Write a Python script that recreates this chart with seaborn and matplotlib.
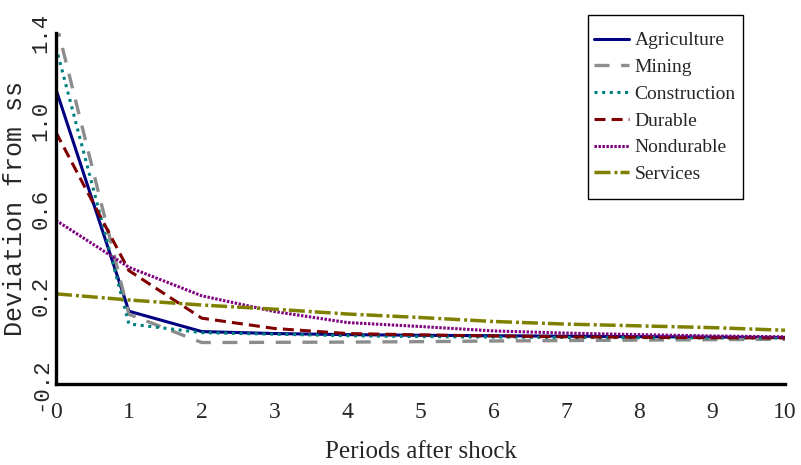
import numpy as np
import pandas as pd
import matplotlib
matplotlib.use("Agg")
import matplotlib.pyplot as plt
from matplotlib.patches import Rectangle
import seaborn as sns

periods = list(range(11))
agriculture = [1.143, 0.132, 0.039, 0.030, 0.025, 0.022, 0.020, 0.018, 0.016, 0.014, 0.012]
mining = [1.45, 0.118, -0.011, -0.010, -0.009, -0.007, -0.004, -0.002, 0.000, 0.002, 0.004]
construction = [1.335, 0.074, 0.034, 0.027, 0.020, 0.016, 0.014, 0.012, 0.011, 0.010, 0.009]
durable = [0.947, 0.317, 0.100, 0.053, 0.030, 0.024, 0.019, 0.015, 0.013, 0.011, 0.010]
nondurable = [0.546, 0.332, 0.202, 0.130, 0.080, 0.062, 0.042, 0.032, 0.025, 0.019, 0.015]
services = [0.211, 0.183, 0.160, 0.141, 0.119, 0.103, 0.085, 0.073, 0.065, 0.057, 0.045]

sectors = ["Agriculture", "Mining", "Construction", "Durable", "Nondurable", "Services"]
values = [agriculture, mining, construction, durable, nondurable, services]

# look of each line
colors = ["#000080", "#8c8c8c", "#008080", "#800000", "#800080", "#808000"]
widths = [2.2, 2.4, 2.2, 2.2, 2.2, 2.5]
styles = ["-", (0, (4.5, 3.5)), (0, (1, 1.5)), (0, (3.6, 2.0)),
          (0, (0.8, 0.5)), (0, (4.6, 1.15, 0.86, 0.86))]

sns.set_style("white")
plt.rcParams["font.family"] = ["Liberation Serif", "DejaVu Serif"]

W, H = 801, 465
fig = plt.figure(figsize=(W / 100, H / 100), dpi=100)
ax = fig.add_axes([56 / W, 81 / H, 729 / W, 351 / H])

for name, vals, c, w, ls in zip(sectors, values, colors, widths, styles):
    sns.lineplot(x=periods, y=vals, ax=ax, color=c, linewidth=w,
                 linestyle=ls, label=name, clip_on=True)

ax.set_xlim(0, 10)
ax.set_ylim(-0.2, 1.4)
ax.set_xticks(range(11))
ax.set_xticks(np.arange(0.5, 10, 1), minor=True)
ax.set_yticks([-0.2, 0.2, 0.6, 1.0, 1.4])
ax.set_yticks([0.0, 0.4, 0.8, 1.2], minor=True)
ax.set_yticklabels(["-0.2", "0.2", "0.6", "1.0", "1.4"], rotation=90,
                   va="center", family="Liberation Mono", fontsize=16)
ax.set_xticklabels([str(i) for i in range(11)], fontsize=17)
ax.tick_params(axis="x", which="major", direction="in", length=7, width=1.2, pad=13)
ax.tick_params(axis="x", which="minor", direction="in", length=4, width=1.2)
ax.tick_params(axis="y", which="both", direction="in", length=4, width=1.2, pad=3.5)

for s in ["top", "right"]:
    ax.spines[s].set_visible(False)
for s in ["left", "bottom"]:
    ax.spines[s].set_linewidth(2.4)
    ax.spines[s].set_color("black")

ax.set_xlabel("Periods after shock", fontsize=18, labelpad=13)
ax.set_ylabel("Deviation from ss", family="Liberation Mono", fontsize=18)
ax.yaxis.set_label_coords(-0.040, 0.5)

# legend entries without frame, box drawn separately
leg = ax.legend(loc="upper left", bbox_to_anchor=(588 / W, 1 - 26 / H),
                bbox_transform=fig.transFigure, fontsize=14, frameon=False,
                handlelength=1.8, handletextpad=0.3,
                labelspacing=0.47, borderpad=0.3, borderaxespad=0)
fig.patches.append(Rectangle((588 / W, 1 - 199 / H), 155 / W, 184 / H,
                             transform=fig.transFigure, fill=False,
                             edgecolor="black", linewidth=1.0))

fig.savefig("out.png", dpi=100)
